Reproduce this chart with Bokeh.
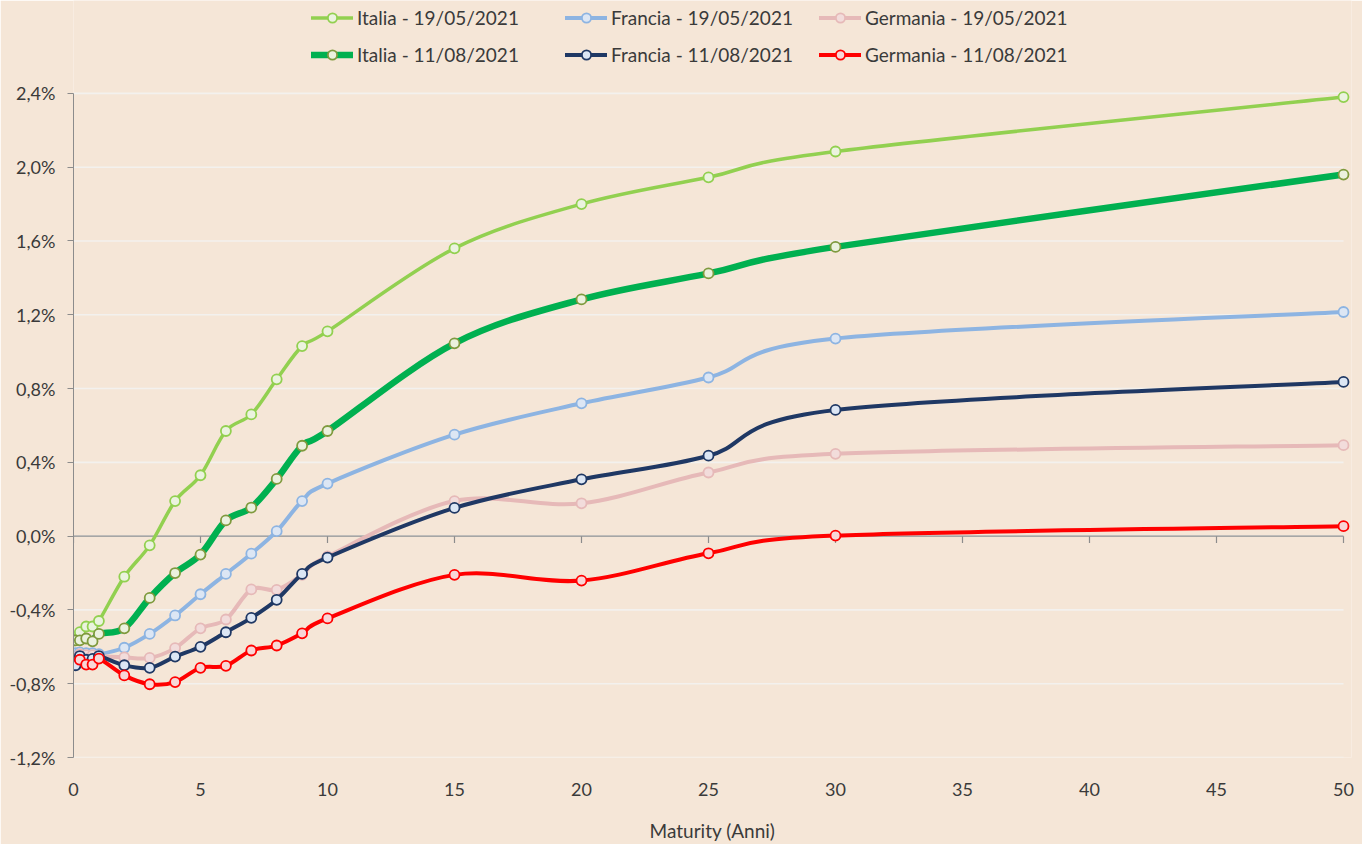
from bokeh.plotting import figure
from bokeh.models import (ColumnDataSource, FixedTicker, Legend, LegendItem, Range1d)
from bokeh.embed import file_html
from bokeh.resources import INLINE

# ---------------- data ----------------
maturity = [0.083, 0.25, 0.5, 0.75, 1, 2, 3, 4, 5, 6, 7, 8, 9, 10, 15, 20, 25, 30, 50]

italia_19 = [-0.56, -0.52, -0.49, -0.49, -0.46, -0.22, -0.05, 0.19, 0.33, 0.57, 0.66, 0.85,
             1.03, 1.11, 1.56, 1.80, 1.945, 2.085, 2.38]
italia_11 = [-0.565, -0.565, -0.555, -0.57, -0.53, -0.50, -0.335, -0.20, -0.10, 0.085, 0.155,
             0.31, 0.49, 0.57, 1.045, 1.283, 1.424, 1.568, 1.96]
francia_19 = [-0.635, -0.63, -0.635, -0.635, -0.64, -0.605, -0.53, -0.43, -0.315, -0.205, -0.095,
              0.027, 0.19, 0.285, 0.55, 0.72, 0.86, 1.071, 1.215]
germania_19 = [None, -0.64, -0.645, -0.645, -0.65, -0.657, -0.66, -0.607, -0.50, -0.452, -0.289,
               -0.291, -0.21, -0.11, 0.19, 0.178, 0.345, 0.446, 0.493]
francia_11 = [-0.70, -0.65, -0.67, -0.665, -0.65, -0.70, -0.714, -0.653, -0.60, -0.521, -0.443,
              -0.345, -0.205, -0.116, 0.153, 0.308, 0.436, 0.684, 0.836]
germania_11 = [None, -0.67, -0.696, -0.696, -0.664, -0.755, -0.803, -0.791, -0.714, -0.703, -0.62,
               -0.593, -0.527, -0.446, -0.21, -0.241, -0.093, 0.003, 0.054]

legend_row1 = ["Italia - 19/05/2021", "Francia - 19/05/2021", "Germania - 19/05/2021"]
legend_row2 = ["Italia - 11/08/2021", "Francia - 11/08/2021", "Germania - 11/08/2021"]

y_ticks = [-1.2, -0.8, -0.4, 0.0, 0.4, 0.8, 1.2, 1.6, 2.0, 2.4]
y_tick_labels = ["-1,2%", "-0,8%", "-0,4%", "0,0%", "0,4%", "0,8%", "1,2%", "1,6%", "2,0%", "2,4%"]
x_ticks = [0, 5, 10, 15, 20, 25, 30, 35, 40, 45, 50]

# ---------------- styles / layout ----------------
BG = "#F5E6D7"
FONT = "Lato"
TXT = "#3a3a3a"
AX = "#8c8c8c"
GRID = "#F3F1EE"
PLOT_H = 672          # pixel height of the -1.2% .. 2.4% band
PLOT_W = 1270         # pixel width of the 0 .. 50 band
TOP_PAD = 94          # legend area above the 2.4% line (kept inside the frame)
RIGHT_PAD = 8         # room for the last markers
px_per_y = PLOT_H / (y_ticks[-1] - y_ticks[0])
px_per_x = PLOT_W / (x_ticks[-1] - x_ticks[0])

styles = {
    "Italia - 19/05/2021":   dict(line="#92D050", width=3.5, fill="#EBF3DF", outline="#92D050"),
    "Italia - 11/08/2021":   dict(line="#00B050", width=6.5, fill="#EBF1DE", outline="#7F9A3E"),
    "Francia - 19/05/2021":  dict(line="#8DB4E2", width=4, fill="#DCE6F4", outline="#8DB4E2"),
    "Germania - 19/05/2021": dict(line="#E6B9B8", width=4, fill="#F2DCDB", outline="#E6B9B8"),
    "Francia - 11/08/2021":  dict(line="#1F3864", width=4, fill="#DCE6F4", outline="#1F3864"),
    "Germania - 11/08/2021": dict(line="#FF0000", width=4, fill="#F8D6D6", outline="#FF0000"),
}

data = {
    "Italia - 19/05/2021": italia_19,
    "Italia - 11/08/2021": italia_11,
    "Francia - 19/05/2021": francia_19,
    "Germania - 19/05/2021": germania_19,
    "Francia - 11/08/2021": francia_11,
    "Germania - 11/08/2021": germania_11,
}
draw_order = ["Italia - 19/05/2021", "Italia - 11/08/2021", "Francia - 19/05/2021",
              "Germania - 19/05/2021", "Francia - 11/08/2021", "Germania - 11/08/2021"]


def smooth_segments(xs, ys):
    """Bezier control points for a smoothed line through the data points."""
    n = len(xs)
    out = dict(x0=[], y0=[], x1=[], y1=[], cx0=[], cy0=[], cx1=[], cy1=[])
    for i in range(n - 1):
        xa, ya = (xs[i - 1], ys[i - 1]) if i > 0 else (xs[i], ys[i])
        xb, yb = xs[i], ys[i]
        xc, yc = xs[i + 1], ys[i + 1]
        xd, yd = (xs[i + 2], ys[i + 2]) if i + 2 < n else (xs[i + 1], ys[i + 1])
        out["x0"].append(xb); out["y0"].append(yb)
        out["x1"].append(xc); out["y1"].append(yc)
        out["cx0"].append(xb + (xc - xa) / 6.0); out["cy0"].append(yb + (yc - ya) / 6.0)
        out["cx1"].append(xc - (xd - xb) / 6.0); out["cy1"].append(yc - (yd - yb) / 6.0)
    return out


p = figure(width=1362, height=844, min_border_left=73, min_border_right=1362 - 73 - PLOT_W - RIGHT_PAD,
           min_border_top=0, min_border_bottom=78,
           x_range=Range1d(x_ticks[0], x_ticks[-1] + RIGHT_PAD / px_per_x),
           y_range=Range1d(y_ticks[0], y_ticks[-1] + TOP_PAD / px_per_y),
           output_backend="svg", toolbar_location=None,
           background_fill_color=BG, border_fill_color=BG, outline_line_color=None)
p.title.visible = False

# horizontal gridlines, drawn only across 0 .. 50
p.xgrid.grid_line_color = None
p.ygrid.grid_line_color = None
p.segment(x0=[x_ticks[0]] * len(y_ticks), x1=[x_ticks[-1]] * len(y_ticks), y0=y_ticks, y1=y_ticks,
          line_color=GRID, line_width=1.6)

# y axis
p.yaxis.ticker = FixedTicker(ticks=y_ticks)
p.yaxis.bounds = (y_ticks[0], y_ticks[-1])
p.yaxis.major_label_overrides = {t: l for t, l in zip(y_ticks, y_tick_labels)}
p.yaxis.axis_line_color = AX
p.yaxis.major_tick_line_color = AX
p.yaxis.major_tick_out = 6
p.yaxis.major_tick_in = 0
p.yaxis.minor_tick_line_color = None
p.yaxis.major_label_standoff = 12
p.yaxis.major_label_text_font = FONT
p.yaxis.major_label_text_font_size = "18px"
p.yaxis.major_label_text_color = TXT

# x axis (labels at bottom, axis line drawn at zero)
p.xaxis.ticker = FixedTicker(ticks=x_ticks)
p.xaxis.axis_line_color = None
p.xaxis.major_tick_line_color = None
p.xaxis.minor_tick_line_color = None
p.xaxis.major_label_standoff = 19
p.xaxis.major_label_text_font = FONT
p.xaxis.major_label_text_font_size = "18px"
p.xaxis.major_label_text_color = TXT
p.xaxis.axis_label = "Maturity (Anni)"
p.xaxis.axis_label_text_font = FONT
p.xaxis.axis_label_text_font_style = "normal"
p.xaxis.axis_label_text_font_size = "19px"
p.xaxis.axis_label_text_color = TXT
p.xaxis.axis_label_standoff = 20

p.segment(x0=[x_ticks[0]], x1=[x_ticks[-1]], y0=[0], y1=[0], line_color=AX, line_width=1.2)
tick_len = 7 / px_per_y
p.segment(x0=x_ticks, x1=x_ticks, y0=[0] * len(x_ticks), y1=[-tick_len] * len(x_ticks),
          line_color=AX, line_width=1.2)

renderers = {}
for name in draw_order:
    st = styles[name]
    xs = [m for m, v in zip(maturity, data[name]) if v is not None]
    ys = [v for v in data[name] if v is not None]
    seg = ColumnDataSource(smooth_segments(xs, ys))
    rb = p.bezier(x0="x0", y0="y0", x1="x1", y1="y1", cx0="cx0", cy0="cy0", cx1="cx1", cy1="cy1",
                  source=seg, line_color=st["line"], line_width=st["width"], line_cap="round")
    rs = p.scatter(xs, ys, marker="circle", size=10, fill_color=st["fill"],
                   line_color=st["outline"], line_width=1.8)
    renderers[name] = [rb, rs]

LEG_H = 23
FRAME_TOTAL_H = PLOT_H + TOP_PAD


def make_legend(names, center_px):
    # location = (left, bottom) in screen px from the frame's bottom-left corner
    bottom_px = center_px + LEG_H / 2.0 + 8.5
    lg = Legend(items=[LegendItem(label=n, renderers=renderers[n]) for n in names],
                orientation="horizontal", location=(238, FRAME_TOTAL_H - bottom_px),
                border_line_color=None, background_fill_alpha=0,
                glyph_width=42, glyph_height=LEG_H, label_standoff=4, spacing=6,
                padding=0, margin=0, label_width=202,
                label_text_font=FONT, label_text_font_size="19px", label_text_color=TXT)
    p.add_layout(lg)


make_legend(legend_row1, 18)
make_legend(legend_row2, 55)

open("out.html", "w").write(file_html(p, INLINE))
